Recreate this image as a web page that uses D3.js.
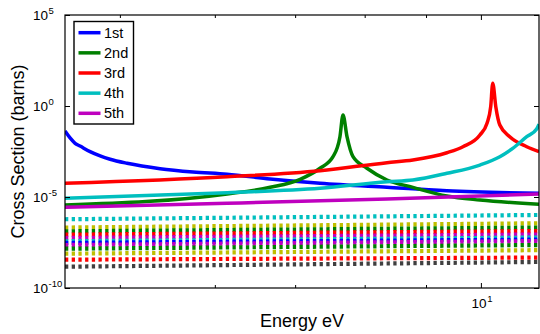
<!DOCTYPE html>
<html><head><meta charset="utf-8">
<script src="https://cdn.jsdelivr.net/npm/d3@7"></script>
<style>body{margin:0;background:#fff} svg{display:block} text{font-family:"Liberation Sans",Arial,Helvetica,sans-serif;fill:#000}</style>
</head><body><svg id="c" width="540" height="334"></svg>
<script>
// ---- data ----
const seriesNames = ["1st", "2nd", "3rd", "4th", "5th"];
const seriesColors = ["#0000ff", "#008000", "#ff0000", "#00bfbf", "#bf00bf"];

const energy1 = [4.50, 4.544, 4.588, 4.632, 4.722, 4.814, 4.907, 5.070, 5.401, 5.754, 6.143, 6.672, 7.343, 8.350, 9.368, 11.18];
const xs1 = [4.2e-2, 1.75e-2, 8.9e-3, 6.3e-3, 3.1e-3, 1.8e-3, 1.18e-3, 7.1e-4, 3.6e-4, 2.37e-4, 1.77e-4, 9.8e-5, 5.7e-5, 3.4e-5, 2.2e-5, 1.6e-5];

const energy2 = [4.50, 6.143, 6.672, 7.068, 7.343, 7.528, 7.629, 7.674, 7.733, 7.823, 8.035, 8.350, 8.776, 9.368, 9.981, 11.18];
const xs2 = [3.6e-6, 1.46e-5, 3.4e-5, 9.4e-5, 3.8e-4, 1.64e-3, 2.06e-2, 3.2e-1, 2.06e-2, 1.64e-3, 3.8e-4, 8.6e-5, 3.4e-5, 1.13e-5, 6.8e-6, 4.0e-6];

const energy3 = [4.50, 6.143, 7.343, 8.350, 8.776, 9.368, 9.661, 9.981, 10.12, 10.19, 10.23, 10.29, 10.37, 10.57, 10.92, 11.18];
const xs3 = [5.7e-5, 1.3e-4, 2.8e-4, 7.7e-4, 1.08e-3, 2.7e-3, 5.8e-3, 2.55e-2, 1.16e-1, 9.2e-1, 1.77e1, 9.2e-1, 9.0e-2, 2.06e-2, 5.8e-3, 3.1e-3];

const energy4 = [4.50, 6.143, 7.343, 8.350, 8.776, 9.368, 9.981, 10.37, 10.63, 10.92, 11.13, 11.18];
const xs4 = [8.5e-6, 1.72e-5, 3.0e-5, 6.9e-5, 8.6e-5, 2.0e-4, 5.7e-4, 1.64e-3, 4.7e-3, 2.06e-2, 5.4e-2, 1.0e-1];

const energy5 = [4.50, 6.143, 8.350, 11.18];
const xs5 = [2.7e-6, 4.5e-6, 7.8e-6, 1.46e-5];

const dottedColors = ["#00bfbf", "#bfbf00", "#008000", "#ff0000", "#bf00bf", "#00bfbf", "#0000ff", "#bf00bf", "#008000", "#bfbf00", "#ff0000", "#404040"];
const dottedEnergy = [4.50, 11.18];
const dottedStart = [6.0e-7, 2.1e-7, 1.3e-7, 8.5e-8, 5.6e-8, 3.7e-8, 3.0e-8, 2.3e-8, 1.44e-8, 7.7e-9, 3.6e-9, 1.48e-9];
const dottedEnd   = [1.03e-6, 3.6e-7, 2.1e-7, 1.35e-7, 8.7e-8, 5.9e-8, 4.6e-8, 3.8e-8, 2.3e-8, 1.2e-8, 4.7e-9, 2.7e-9];

const xTickValues = [5, 6, 7, 8, 9, 10];
const xLabelTicks = [10];
const yTickValues = [1e-10, 1e-5, 1, 1e5];
const xTitle = "Energy eV";
const yTitle = "Cross Section (barns)";

// ---- layout ----
const L = 65, R = 539, T = 15, B = 288;
const svg = d3.select("#c");
const x = d3.scaleLog().domain([4.5, 11.18]).range([L, R]);
const y = d3.scaleLog().domain([1e-10, 1e5]).range([B, T]);

svg.append("defs").append("clipPath").attr("id", "clip")
  .append("rect").attr("x", L).attr("y", T).attr("width", R - L).attr("height", B - T);

const line = d3.line().x(d => x(d[0])).y(d => y(d[1])).curve(d3.curveMonotoneX);
const plot = svg.append("g").attr("clip-path", "url(#clip)");

// dotted lines
dottedColors.forEach((c, i) => {
  const pts = [[dottedEnergy[0], dottedStart[i]], [dottedEnergy[1], dottedEnd[i]]];
  plot.append("path").attr("d", d3.line().x(d => x(d[0])).y(d => y(d[1]))(pts))
    .attr("fill", "none").attr("stroke", c).attr("stroke-width", 4.2)
    .attr("stroke-dasharray", "3.3,3.4");
});

// solid series
const solid = [[energy1, xs1], [energy2, xs2], [energy3, xs3], [energy4, xs4], [energy5, xs5]];
solid.forEach((s, i) => {
  const pts = s[0].map((e, j) => [e, s[1][j]]);
  plot.append("path").attr("d", line(pts)).attr("fill", "none")
    .attr("stroke", seriesColors[i]).attr("stroke-width", 3.5)
    .attr("stroke-linejoin", "round");
});

// axes (ticks inward)
function styleAxis(g) {
  g.select(".domain").remove();
  g.selectAll(".tick line").attr("stroke", "#000").attr("stroke-width", 1);
}
const xb = svg.append("g").attr("transform", `translate(0,${B})`)
  .call(d3.axisBottom(x).tickValues(xTickValues).tickSize(-3).tickFormat(""));
styleAxis(xb);
xb.selectAll(".tick line").attr("y2", d => xLabelTicks.includes(d) ? -5 : -3);
const xt = svg.append("g").attr("transform", `translate(0,${T})`)
  .call(d3.axisTop(x).tickValues(xTickValues).tickSize(-3).tickFormat(""));
styleAxis(xt);
xt.selectAll(".tick line").attr("y2", d => xLabelTicks.includes(d) ? 5 : 3);
const yl = svg.append("g").attr("transform", `translate(${L},0)`)
  .call(d3.axisLeft(y).tickValues(yTickValues).tickSize(-5).tickFormat(""));
styleAxis(yl);
const yr = svg.append("g").attr("transform", `translate(${R},0)`)
  .call(d3.axisRight(y).tickValues(yTickValues).tickSize(-5).tickFormat(""));
styleAxis(yr);

// box
svg.append("rect").attr("x", L).attr("y", T).attr("width", R - L).attr("height", B - T)
  .attr("fill", "none").attr("stroke", "#000").attr("stroke-width", 1.2);

// tick labels with superscripts
yTickValues.forEach(v => {
  const t = svg.append("text").attr("x", 33).attr("y", y(v) + 5).attr("font-size", 13.5);
  t.append("tspan").text("10");
  t.append("tspan").attr("dy", -6).attr("dx", 0.5).attr("font-size", 9.5).text(Math.round(Math.log10(v)));
});
xLabelTicks.forEach(v => {
  const t = svg.append("text").attr("x", x(v) - 9.5).attr("y", B + 19.7).attr("font-size", 13.5);
  t.append("tspan").text("10");
  t.append("tspan").attr("dy", -6).attr("dx", 0.8).attr("font-size", 9.5).text(Math.round(Math.log10(v)));
});

// titles
svg.append("text").attr("x", (L + R) / 2).attr("y", 326.5).attr("text-anchor", "middle")
  .attr("font-size", 18).text(xTitle);
svg.append("text").attr("transform", `translate(24,${(T + B) / 2}) rotate(-90)`)
  .attr("text-anchor", "middle").attr("font-size", 18).text(yTitle);

// legend
const lg = svg.append("g");
lg.append("rect").attr("x", 74).attr("y", 21.5).attr("width", 59.5).attr("height", 102.5)
  .attr("fill", "#fff").attr("stroke", "#000").attr("stroke-width", 1.4);
seriesNames.forEach((n, i) => {
  const cy = 32.7 + i * 20.15;
  lg.append("line").attr("x1", 78.5).attr("x2", 100.5).attr("y1", cy).attr("y2", cy)
    .attr("stroke", seriesColors[i]).attr("stroke-width", 3.5);
  lg.append("text").attr("x", 104).attr("y", cy + 5).attr("font-size", 14.5).text(n);
});
</script></body></html>
